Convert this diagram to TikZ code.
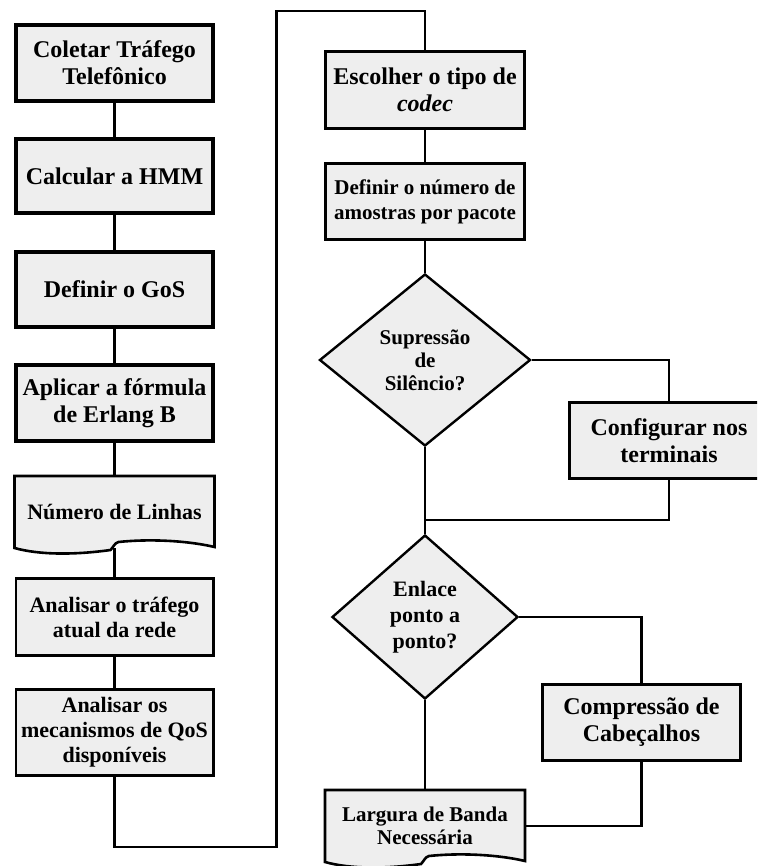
\documentclass[tikz,border=0pt]{standalone}
\usepackage{fontspec}
\setmainfont{Liberation Serif}
\usetikzlibrary{shapes.geometric,calc,backgrounds}
\definecolor{boxfill}{HTML}{EEEEEE}

% bottom edge of a "document" symbol, drawn from the anchors of a node
\newcommand\docoutline[1]{%
  \draw[docline] (#1.north west) -- (#1.north east) -- ($(#1.south east)+(0,-1)$)
    .. controls ($(#1.south east)+(-30,-8)$) and ($(#1.south east)+(-68,-9)$) .. ($(#1.south)+(4,-6)$)
    .. controls ($(#1.south)+(0,-5)$) and ($(#1.south)+(-1,-1)$) .. ($(#1.south)+(-4,2)$)
    .. controls ($(#1.south)+(-40,7)$) and ($(#1.south west)+(25,7)$) .. (#1.south west) -- cycle;}

\begin{document}
\begin{tikzpicture}[x=1pt,y=-1pt,
  bigtext/.style={font=\bfseries\fontsize{24}{27}\selectfont},
  midtext/.style={font=\bfseries\fontsize{22}{25}\selectfont},
  stepbox/.style={draw, fill=boxfill, line width=2.6pt, line join=miter,
    inner sep=0pt, align=center, minimum width=197.4pt, bigtext},
  heavybox/.style={stepbox, line width=4pt, minimum width=197pt},
  docbox/.style={stepbox, draw=none, fill=none, minimum height=69.4pt},
  docline/.style={draw, fill=boxfill, line width=2.6pt, line join=miter},
  decision/.style={diamond, draw, fill=boxfill, line width=2.4pt, line join=miter,
    inner sep=0pt, align=center, font=\bfseries\fontsize{21}{23}\selectfont},
  conn/.style={line width=2.7pt, line join=miter},
]
\useasboundingbox (0,0) rectangle (757,866);
\clip (0,0) rectangle (757,866);

% left column
\node[heavybox, minimum height=76pt] (coletar) at (114.5,63) {Coletar Tráfego\\Telefônico};
\node[heavybox, minimum height=74pt] (hmm) at (114.5,176) {Calcular a HMM};
\node[heavybox, minimum height=75pt] (gos) at (114.5,289.5) {Definir o GoS};
\node[heavybox, minimum height=76pt] (erlang) at (114.5,403) {Aplicar a fórmula\\de Erlang B};
\node[docbox, midtext] (linhas) at (114.5,512) {Número de Linhas};
\node[stepbox, minimum height=77.4pt, midtext] (trafego) at (114.5,617) {Analisar o tráfego\\atual da rede};
\node[stepbox, minimum height=86.4pt, midtext] (qos) at (114.5,732.5) {Analisar os\\mecanismos de QoS\\disponíveis};

% right column
\node[stepbox, minimum width=199.4pt, minimum height=77.4pt] (codec) at (425,90) {Escolher o tipo de\\\textit{codec}};
\node[stepbox, minimum width=199.4pt, minimum height=76.4pt, font=\bfseries\fontsize{21}{25}\selectfont] (amostras) at (425,201.5) {Definir o número de\\amostras por pacote};
\node[decision, minimum width=211pt, minimum height=172pt] (silencio) at (425,360) {Supressão\\de\\Silêncio?};
\node[stepbox, minimum width=199.4pt, minimum height=76.4pt] (terminais) at (669,440.5) {Configurar nos\\terminais};
\coordinate (juncao) at (425,520);
\node[decision, minimum width=186pt, minimum height=164pt, font=\bfseries\fontsize{22}{26}\selectfont] (enlace) at (425,617) {Enlace\\ponto a\\ponto?};
\node[stepbox, minimum width=198.4pt, minimum height=76.4pt] (cabec) at (641.5,722.5) {Compressão de\\Cabeçalhos};
\node[docbox, minimum width=197.4pt, font=\bfseries\fontsize{21}{23}\selectfont] (banda) at (425,826) {Largura de Banda\\Necessária};

\coordinate (baixo) at (276.5,847);
\coordinate (alto) at (276.5,11);

\begin{scope}[on background layer]
  \draw[conn] (coletar.south) -- (hmm.north);
  \draw[conn] (hmm.south) -- (gos.north);
  \draw[conn] (gos.south) -- (erlang.north);
  \draw[conn] (erlang.south) -- (linhas.north);
  \draw[conn] (linhas.south) -- (trafego.north);
  \draw[conn] (trafego.south) -- (qos.north);
  \draw[conn] (qos.south) |- (baixo) -- (alto) -| (codec.north);
  \draw[conn] (codec.south) -- (amostras.north);
  \draw[conn] (amostras.south) -- (silencio.north);
  \draw[conn] (silencio.east) -| (terminais.north);
  \draw[conn] (terminais.south) |- (juncao);
  \draw[conn] (silencio.south) -- (enlace.north);
  \draw[conn] (enlace.east) -| (cabec.north);
  \draw[conn] (cabec.south) |- (banda.east);
  \draw[conn] (enlace.south) -- (banda.north);
  % document symbols cover the connector ends
  \docoutline{linhas}
  \docoutline{banda}
\end{scope}
\end{tikzpicture}
\end{document}
